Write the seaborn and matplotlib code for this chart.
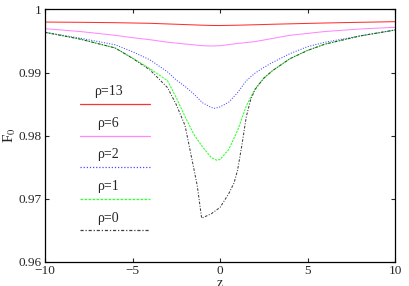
import numpy as np
import pandas as pd
import matplotlib
matplotlib.use("Agg")
import matplotlib.pyplot as plt
import seaborn as sns

# valeurs
z_rho13 = [-10, -8, -6, -4, -3, -2, -1, -0.5, 0, 1, 2, 3, 4, 6, 8, 10]
f_rho13 = [0.99800, 0.99796, 0.99790, 0.99780, 0.99770, 0.99760, 0.99750, 0.99746,
           0.99745, 0.99750, 0.99757, 0.99765, 0.99772, 0.99785, 0.99796, 0.99806]

z_rho6 = [-10, -8, -6, -5, -4, -3, -2, -1, -0.5, 0, 1, 2, 3, 4, 5, 6, 8, 10]
f_rho6 = [0.99695, 0.99650, 0.99590, 0.99552, 0.99520, 0.99480, 0.99452, 0.99425,
          0.99420, 0.99425, 0.99460, 0.99490, 0.99540, 0.99590, 0.99620, 0.99650,
          0.99690, 0.99717]

z_rho2 = [-10, -8, -6, -5, -4, -3, -2.5, -2, -1.5, -1, -0.5, -0.3, 0, 0.5, 1, 1.5,
          2, 2.5, 3, 4, 5, 6, 8, 10]
f_rho2 = [0.99637, 0.99545, 0.99440, 0.99330, 0.99200, 0.99010, 0.98880, 0.98780,
          0.98660, 0.98520, 0.98445, 0.98432, 0.98455, 0.98530, 0.98680, 0.98870,
          0.98990, 0.99080, 0.99160, 0.99300, 0.99410, 0.99480, 0.99580, 0.99674]

z_rho1 = [-10, -8, -6, -5, -4, -3, -2.5, -2, -1.5, -1, -0.5, -0.2, 0, 0.5, 1, 1.5,
          2, 2.5, 3, 4, 5, 6, 8, 10]
f_rho1 = [0.99637, 0.99530, 0.99390, 0.99229, 0.99060, 0.98870, 0.98600, 0.98300,
          0.98020, 0.97820, 0.97650, 0.97610, 0.97620, 0.97780, 0.98080, 0.98470,
          0.98740, 0.98910, 0.99030, 0.99220, 0.99350, 0.99450, 0.99580, 0.99674]

z_rho0 = [-10, -8, -6, -5, -4, -3, -2.5, -2, -1.5, -1.3, -1.05, -0.5, 0, 0.5, 0.8,
          1, 1.25, 1.5, 1.75, 2, 2.5, 3, 4, 5, 6, 8, 10]
f_rho0 = [0.99637, 0.99530, 0.99390, 0.99225, 0.99040, 0.98760, 0.98490, 0.98160,
          0.97480, 0.97200, 0.96690, 0.96760, 0.96860, 0.97080, 0.97250, 0.97450,
          0.97850, 0.98300, 0.98570, 0.98730, 0.98910, 0.99030, 0.99220, 0.99350,
          0.99450, 0.99580, 0.99674]

labels = ["ρ=13", "ρ=6", "ρ=2", "ρ=1", "ρ=0"]
couleurs = ["#ff3030", "#ff88ff", "#4848ff", "#30ff30", "#404040"]
tirets = ["", "", (1, 1.5), (2.2, 1), (2.5, 1.5, 1, 1.5)]

series = [(z_rho13, f_rho13), (z_rho6, f_rho6), (z_rho2, f_rho2),
          (z_rho1, f_rho1), (z_rho0, f_rho0)]
df = pd.concat([pd.DataFrame({"z": z, "F0": f, "rho": lab})
                for (z, f), lab in zip(series, labels)], ignore_index=True)

sns.set_theme(style="ticks")
plt.rcParams["font.family"] = ["Liberation Serif", "DejaVu Serif"]
plt.rcParams["mathtext.fontset"] = "stix"

fig = plt.figure(figsize=(4.09, 2.86), dpi=100)
ax = fig.add_axes([0.110, 0.085, 0.856, 0.882])

sns.lineplot(data=df, x="z", y="F0", hue="rho", style="rho",
             palette=dict(zip(labels, couleurs)), dashes=dict(zip(labels, tirets)),
             linewidth=0.75, legend=False, ax=ax, estimator=None, sort=False)

# legende facon gnuplot : texte au-dessus d'un segment
for i, lab in enumerate(labels):
    yl = 0.625 - i * 0.125
    ax.plot([0.1, 0.3], [yl, yl], transform=ax.transAxes, color=couleurs[i],
            linewidth=0.9, dashes=tirets[i] if tirets[i] else (None, None))
    ax.text(0.18, yl + 0.048, lab, transform=ax.transAxes, ha="center",
            va="center", fontsize=10)

ax.set_xlim(-10, 10)
ax.set_ylim(0.96, 1.0)
ax.set_xticks([-10, -5, 0, 5, 10])
ax.set_yticks([0.96, 0.97, 0.98, 0.99, 1.0])
ax.set_yticklabels(["0.96", "0.97", "0.98", "0.99", "1"])
ax.tick_params(direction="in", length=3, width=0.8, top=True, right=True,
               labelsize=9.5, pad=2.5)
for s in ax.spines.values():
    s.set_linewidth(0.9)
    s.set_color("black")
ax.set_xlabel("z", fontsize=10, labelpad=0)
ax.set_ylabel(r"F$_0$", fontsize=11, labelpad=0)

fig.savefig("out.png", dpi=100)
